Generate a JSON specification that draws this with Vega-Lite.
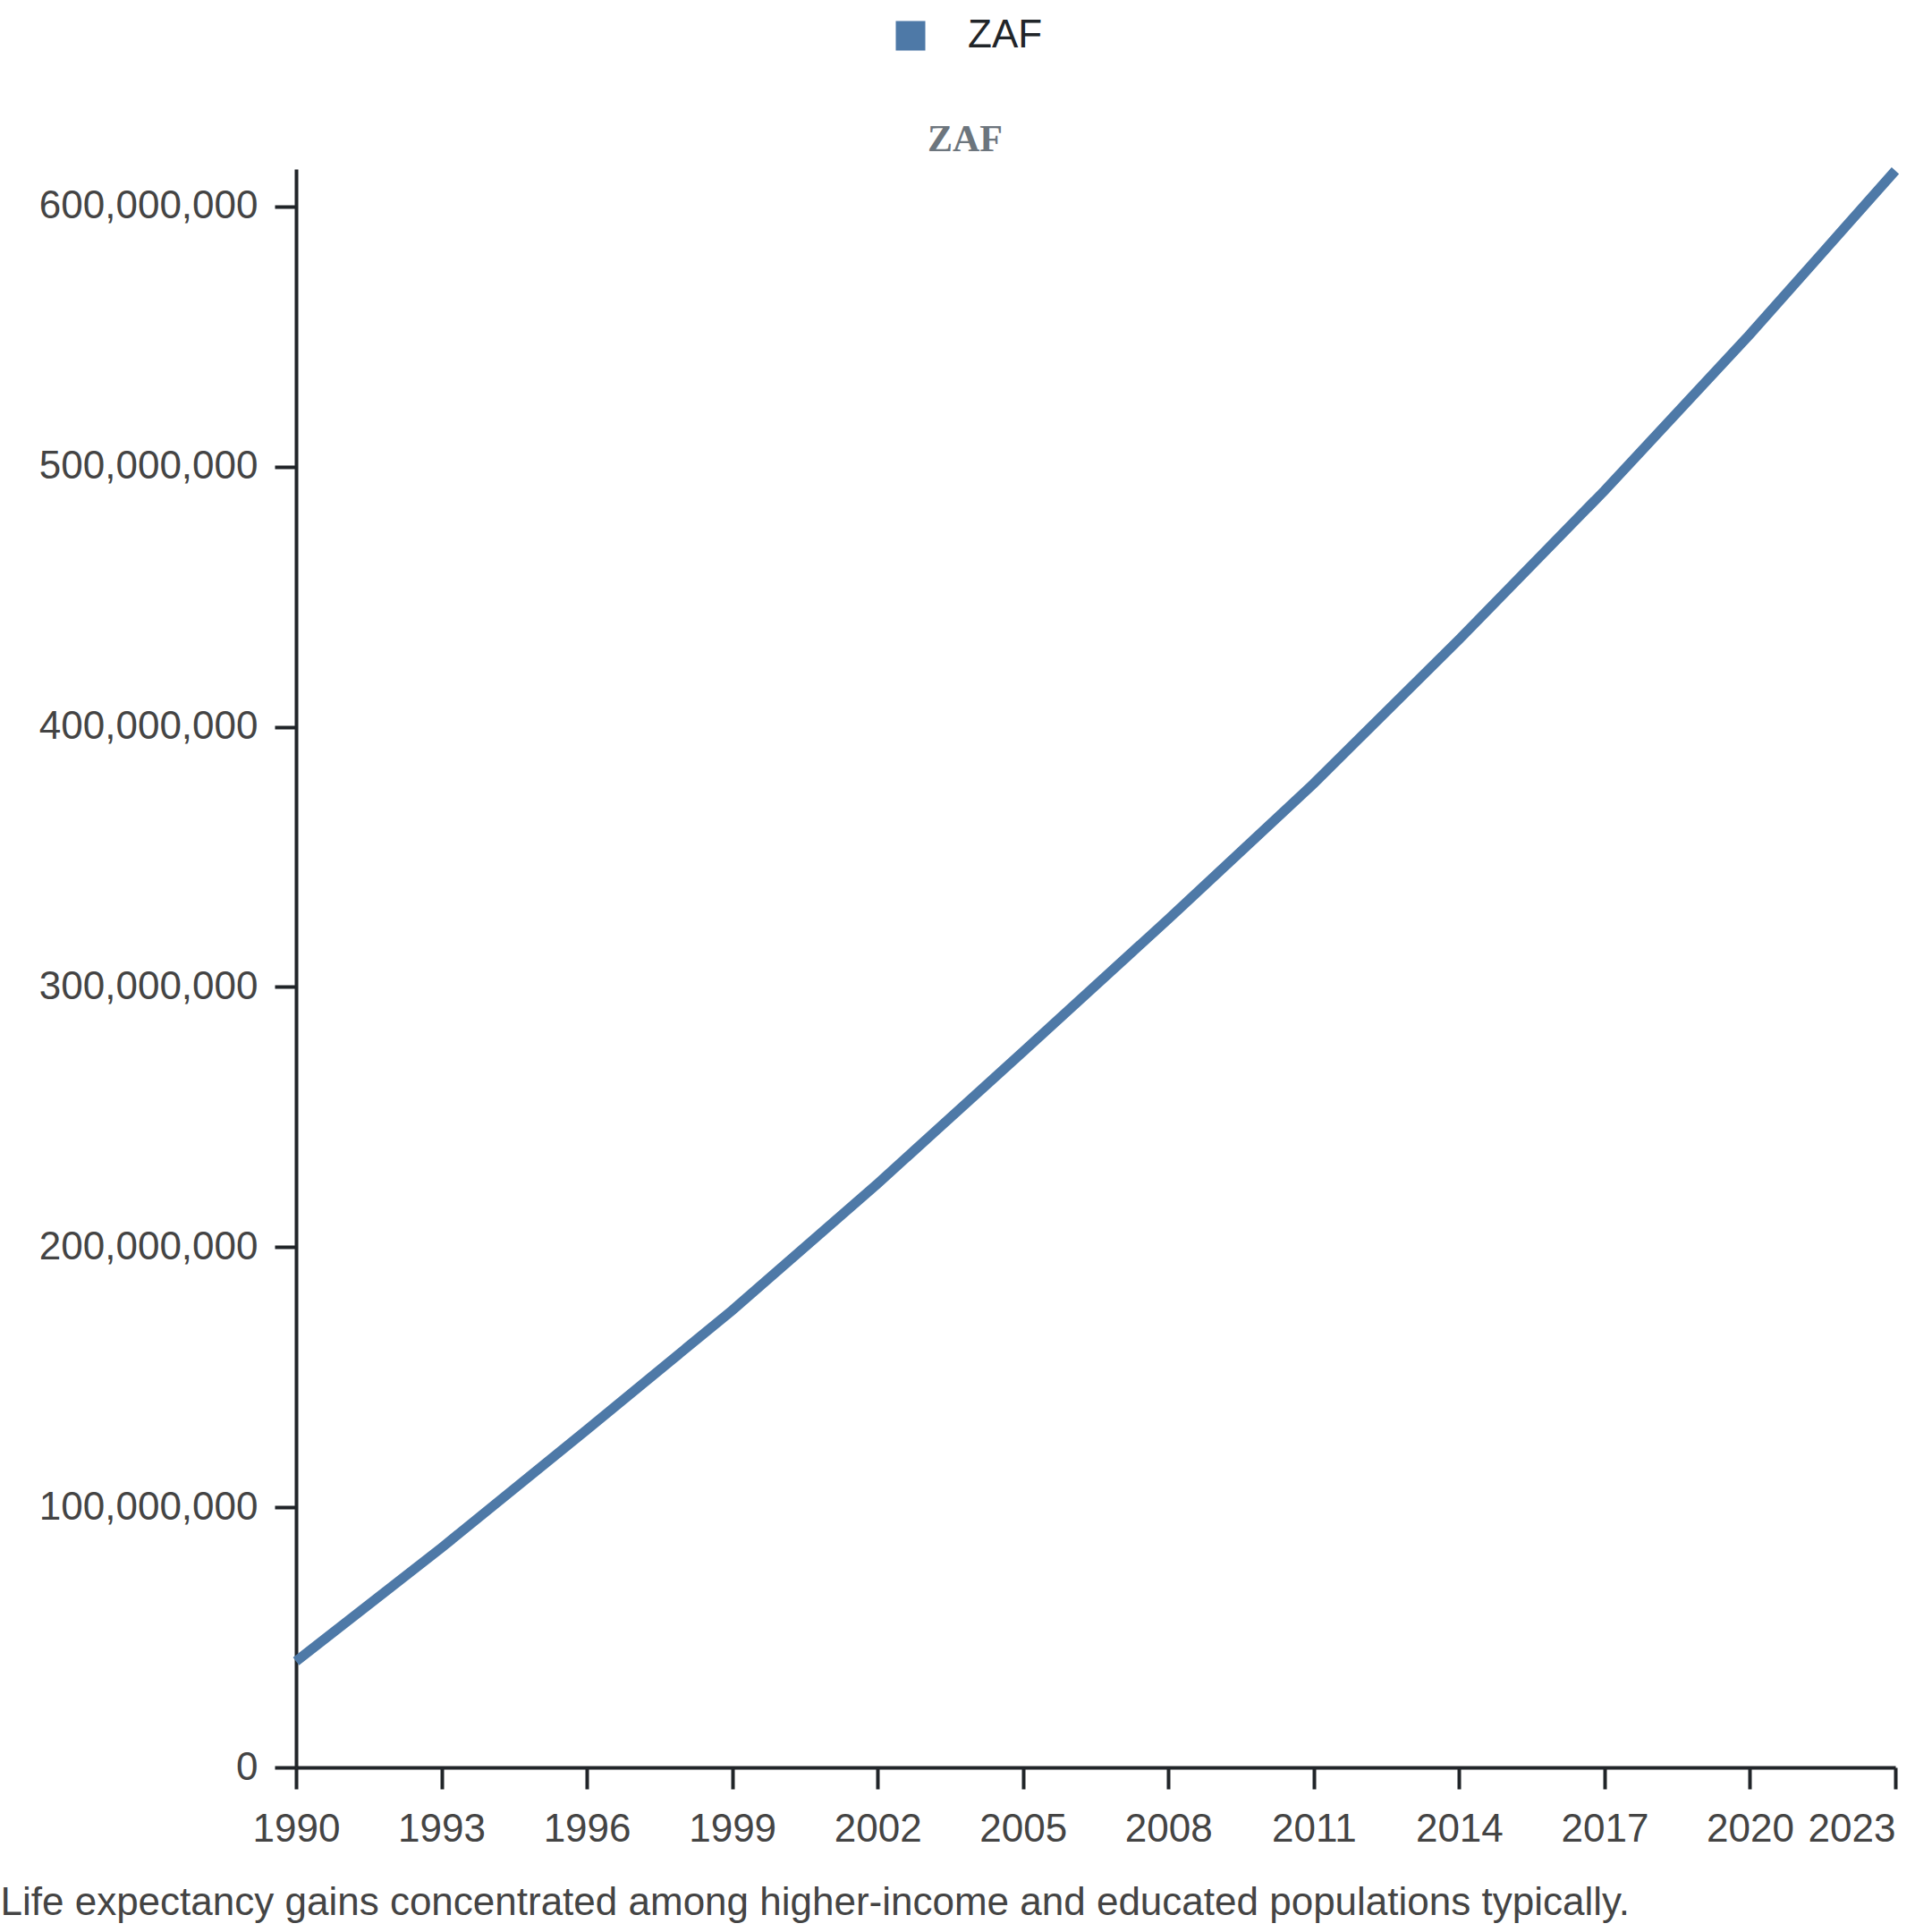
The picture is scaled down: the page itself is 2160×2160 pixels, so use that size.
{
  "$schema": "https://vega.github.io/schema/vega-lite/v6.json",
  "autosize": {"type": "none"},
  "padding": {"left": 331, "top": 189, "right": 41, "bottom": 184},
  "width": 1788,
  "height": 1787,
  "background": "white",
  "config": {
    "view": {"stroke": null},
    "font": "Liberation Sans"
  },
  "title": {
    "text": "ZAF",
    "font": "Liberation Serif",
    "fontSize": 42,
    "fontWeight": "bold",
    "color": "#6c757d",
    "anchor": "middle",
    "frame": "group",
    "baseline": "alphabetic",
    "offset": 20,
    "dx": -146,
    "dy": 213
  },
  "data": {
    "values": [
      {"year": 1990, "country": "ZAF", "value": 40800000},
      {"year": 1993, "country": "ZAF", "value": 84400000},
      {"year": 1996, "country": "ZAF", "value": 129800000},
      {"year": 1999, "country": "ZAF", "value": 175700000},
      {"year": 2002, "country": "ZAF", "value": 224400000},
      {"year": 2005, "country": "ZAF", "value": 275100000},
      {"year": 2008, "country": "ZAF", "value": 326100000},
      {"year": 2011, "country": "ZAF", "value": 378200000},
      {"year": 2014, "country": "ZAF", "value": 433600000},
      {"year": 2017, "country": "ZAF", "value": 490800000},
      {"year": 2020, "country": "ZAF", "value": 550900000},
      {"year": 2023, "country": "ZAF", "value": 613800000}
    ]
  },
  "mark": {"type": "line", "strokeWidth": 11},
  "encoding": {
    "x": {
      "field": "year",
      "type": "quantitative",
      "scale": {"domain": [1990, 2023], "nice": false, "zero": false},
      "axis": {
        "values": [1990, 1993, 1996, 1999, 2002, 2005, 2008, 2011, 2014, 2017, 2020, 2023],
        "format": "d",
        "grid": false,
        "domainColor": "#212529",
        "domainWidth": 4,
        "tickColor": "#212529",
        "tickWidth": 4,
        "tickSize": 24,
        "labelFontSize": 44,
        "labelColor": "#444444",
        "labelPadding": 23,
        "labelFlush": false,
        "labelOverlap": false,
        "labelLimit": 0,
        "labelAlign": {"condition": {"test": "datum.value == 2023", "value": "right"}, "value": "center"},
        "title": "Life expectancy gains concentrated among higher-income and educated populations typically.",
        "titleFontSize": 44,
        "titleFontWeight": "normal",
        "titleColor": "#444444",
        "titleX": -331,
        "titleY": 164,
        "titleAlign": "left",
        "titleAnchor": "start",
        "titleBaseline": "alphabetic",
        "titleLimit": 0
      }
    },
    "y": {
      "field": "value",
      "type": "quantitative",
      "scale": {"domain": [0, 614400000], "nice": false},
      "axis": {
        "values": [0, 100000000, 200000000, 300000000, 400000000, 500000000, 600000000],
        "format": ",d",
        "grid": false,
        "domainColor": "#212529",
        "domainWidth": 4,
        "tickColor": "#212529",
        "tickWidth": 4,
        "tickSize": 24,
        "labelFontSize": 44,
        "labelColor": "#444444",
        "labelPadding": 19,
        "labelLimit": 0,
        "title": null
      }
    },
    "color": {
      "field": "country",
      "type": "nominal",
      "scale": {"range": ["#4e79a7"]},
      "legend": {
        "orient": "none",
        "legendX": 665,
        "legendY": -171,
        "title": null,
        "symbolType": "square",
        "symbolSize": 1089,
        "symbolFillColor": "#4e79a7",
        "symbolStrokeWidth": 0,
        "labelFontSize": 44,
        "labelColor": "#212529",
        "labelOffset": 42
      }
    }
  }
}
